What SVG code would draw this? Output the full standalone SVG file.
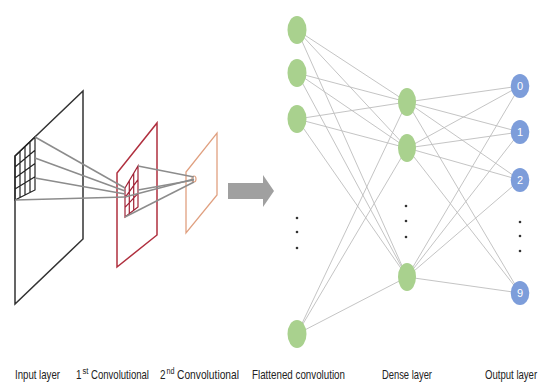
<svg xmlns="http://www.w3.org/2000/svg" width="545" height="383" viewBox="0 0 545 383">
  <style>
    .plane { fill: none; stroke-linejoin: miter; }
    .input-plane { stroke: #333333; stroke-width: 1.5; }
    .conv1-plane { stroke: #b0303f; stroke-width: 1.5; }
    .conv2-plane { stroke: #e0a080; stroke-width: 1.3; }
    .grid-black { fill: none; stroke: #222222; stroke-width: 1.2; }
    .grid-red { fill: none; stroke: #a02034; stroke-width: 1.2; }
    .ray { stroke: #8c8c8c; stroke-width: 1.5; fill: none; }
    .edge { stroke: #bdbdbd; stroke-width: 0.9; fill: none; }
    .hidden { fill: #a9d18e; }
    .out { fill: #7d9dda; }
    .digit { font-family: "Liberation Sans", Arial, sans-serif; font-size: 11px; fill: #ffffff; text-anchor: middle; }
    .dot { fill: #333333; }
    .label { font-family: "Liberation Sans", Arial, sans-serif; font-size: 13.5px; fill: #222222; }
    .sup { font-family: "Liberation Sans", Arial, sans-serif; font-size: 8.5px; fill: #222222; }
  </style>

  <!-- convolution stages -->
  <g id="input-layer">
    <polygon class="plane input-plane" points="83,91 83,239 15,304 15,156"/>
    <!-- 4x4 receptive field -->
    <path class="grid-black" d="M15,156 L35,137 L35,190 L15,200 Z
      M20,151.25 L20,197.5 M25,146.5 L25,195 M30,141.75 L30,192.5
      M15,167 L35,150.25 M15,178 L35,163.5 M15,189 L35,176.75"/>
  </g>

  <g id="conv1-layer">
    <polygon class="plane conv1-plane" points="157,123 157,235 117,267 117,173"/>
    <!-- 3x3 filter -->
    <path class="grid-red" d="M125,188 L138,166 L138,207 L125,217 Z
      M129.3,180.7 L129.3,213.7 M133.7,173.3 L133.7,210.3
      M125,197.7 L138,179.7 M125,207.3 L138,193.3"/>
  </g>

  <g id="conv2-layer">
    <polygon class="plane conv2-plane" points="217,133 217,195 186,233 186,172"/>
    <ellipse cx="194" cy="179" rx="2" ry="3" fill="none" stroke="#e0a080" stroke-width="1.2"/>
  </g>

  <g id="conv-rays">
    <line class="ray" x1="35" y1="137" x2="125" y2="188"/>
    <line class="ray" x1="35" y1="158" x2="125" y2="191"/>
    <line class="ray" x1="35" y1="178" x2="125" y2="194"/>
    <line class="ray" x1="15" y1="200" x2="125" y2="197"/>
    <line class="ray" x1="138" y1="166" x2="194" y2="177"/>
    <line class="ray" x1="125" y1="197" x2="194" y2="179"/>
    <line class="ray" x1="138" y1="190" x2="194" y2="180"/>
    <line class="ray" x1="125" y1="217" x2="194" y2="182"/>
  </g>

  <g id="flatten-arrow">
    <path d="M228,183 L263,183 L263,175 L274,191 L263,207 L263,199 L228,199 Z" fill="#a0a0a0"/>
  </g>

  <!-- fully connected part -->
  <g id="connectors">
    <line class="edge" x1="297" y1="30" x2="407" y2="102"/>
    <line class="edge" x1="297" y1="30" x2="407" y2="148"/>
    <line class="edge" x1="297" y1="30" x2="407" y2="277"/>
    <line class="edge" x1="297" y1="73" x2="407" y2="102"/>
    <line class="edge" x1="297" y1="73" x2="407" y2="148"/>
    <line class="edge" x1="297" y1="73" x2="407" y2="277"/>
    <line class="edge" x1="297" y1="119" x2="407" y2="102"/>
    <line class="edge" x1="297" y1="119" x2="407" y2="148"/>
    <line class="edge" x1="297" y1="119" x2="407" y2="277"/>
    <line class="edge" x1="297" y1="334" x2="407" y2="102"/>
    <line class="edge" x1="297" y1="334" x2="407" y2="148"/>
    <line class="edge" x1="297" y1="334" x2="407" y2="277"/>
    <line class="edge" x1="407" y1="102" x2="520" y2="86"/>
    <line class="edge" x1="407" y1="102" x2="520" y2="132"/>
    <line class="edge" x1="407" y1="102" x2="520" y2="180"/>
    <line class="edge" x1="407" y1="102" x2="520" y2="293"/>
    <line class="edge" x1="407" y1="148" x2="520" y2="86"/>
    <line class="edge" x1="407" y1="148" x2="520" y2="132"/>
    <line class="edge" x1="407" y1="148" x2="520" y2="180"/>
    <line class="edge" x1="407" y1="148" x2="520" y2="293"/>
    <line class="edge" x1="407" y1="277" x2="520" y2="86"/>
    <line class="edge" x1="407" y1="277" x2="520" y2="132"/>
    <line class="edge" x1="407" y1="277" x2="520" y2="180"/>
    <line class="edge" x1="407" y1="277" x2="520" y2="293"/>
  </g>

  <g id="flat-1"><ellipse class="hidden" cx="297" cy="30" rx="9.5" ry="14"/></g>
  <g id="flat-2"><ellipse class="hidden" cx="297" cy="73" rx="9.5" ry="14"/></g>
  <g id="flat-3"><ellipse class="hidden" cx="297" cy="119" rx="9.5" ry="14"/></g>
  <g id="flat-n"><ellipse class="hidden" cx="297" cy="334" rx="9.5" ry="14"/></g>
  <g id="flat-dots">
    <circle class="dot" cx="297" cy="218" r="1.3"/>
    <circle class="dot" cx="297" cy="232" r="1.3"/>
    <circle class="dot" cx="297" cy="248" r="1.3"/>
  </g>

  <g id="dense-1"><ellipse class="hidden" cx="407" cy="102" rx="9" ry="14"/></g>
  <g id="dense-2"><ellipse class="hidden" cx="407" cy="148" rx="9" ry="14"/></g>
  <g id="dense-n"><ellipse class="hidden" cx="407" cy="277" rx="9" ry="14"/></g>
  <g id="dense-dots">
    <circle class="dot" cx="406" cy="206" r="1.3"/>
    <circle class="dot" cx="406" cy="221" r="1.3"/>
    <circle class="dot" cx="406" cy="237" r="1.3"/>
  </g>

  <g id="out-0"><ellipse class="out" cx="520" cy="86" rx="9.3" ry="12"/><text class="digit" x="520" y="90">0</text></g>
  <g id="out-1"><ellipse class="out" cx="520" cy="132" rx="9.3" ry="12"/><text class="digit" x="520" y="136">1</text></g>
  <g id="out-2"><ellipse class="out" cx="520" cy="180" rx="9.3" ry="12"/><text class="digit" x="520" y="184">2</text></g>
  <g id="out-9"><ellipse class="out" cx="520" cy="293" rx="9.3" ry="12"/><text class="digit" x="520" y="297">9</text></g>
  <g id="out-dots">
    <circle class="dot" cx="520" cy="222" r="1.3"/>
    <circle class="dot" cx="520" cy="236" r="1.3"/>
    <circle class="dot" cx="520" cy="251" r="1.3"/>
  </g>

  <!-- captions -->
  <g id="captions">
    <text class="label" x="15" y="379" textLength="45" lengthAdjust="spacingAndGlyphs">Input layer</text>
    <text class="label" x="76" y="379" textLength="5.5" lengthAdjust="spacingAndGlyphs">1</text>
    <text class="sup" x="82.5" y="374" textLength="6" lengthAdjust="spacingAndGlyphs">st</text>
    <text class="label" x="91" y="379" textLength="58" lengthAdjust="spacingAndGlyphs">Convolutional</text>
    <text class="label" x="160" y="379" textLength="5.5" lengthAdjust="spacingAndGlyphs">2</text>
    <text class="sup" x="166.5" y="374" textLength="8" lengthAdjust="spacingAndGlyphs">nd</text>
    <text class="label" x="177" y="379" textLength="62" lengthAdjust="spacingAndGlyphs">Convolutional</text>
    <text class="label" x="252" y="379" textLength="93" lengthAdjust="spacingAndGlyphs">Flattened convolution</text>
    <text class="label" x="382" y="379" textLength="50" lengthAdjust="spacingAndGlyphs">Dense layer</text>
    <text class="label" transform="translate(485,379) scale(0.71,1)">Output layer</text>
  </g>
</svg>
